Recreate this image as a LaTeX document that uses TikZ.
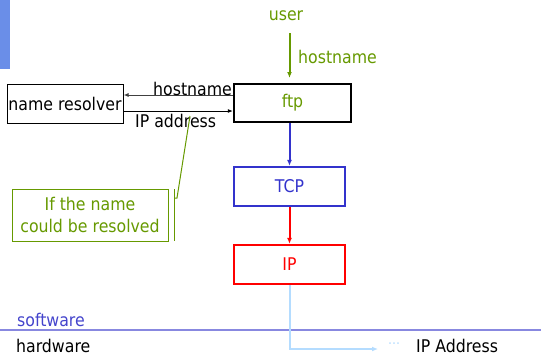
\documentclass[tikz,border=0pt]{standalone}
\usepackage{fontspec}
\setmainfont{DejaVu Sans Condensed}
\usetikzlibrary{arrows.meta}
\definecolor{leaf}{RGB}{102,153,0}
\definecolor{tcpblue}{RGB}{51,51,204}
\definecolor{ipred}{RGB}{255,0,0}
\definecolor{barblue}{RGB}{106,142,232}
\definecolor{layerline}{RGB}{136,136,224}
\definecolor{layertext}{RGB}{68,68,204}
\definecolor{wire}{RGB}{180,220,255}
\tikzset{
  box/.style={draw, inner sep=0pt, line width=#1},
  box/.default=1pt,
  tip/.style={-{Latex[length=6pt,width=5pt]}},
  smalltip/.style={-{Latex[length=5pt,width=4pt]}},
  lbl/.style={inner sep=0pt},
}
\begin{document}
\begin{tikzpicture}[x=1pt,y=-1pt,font=\fontsize{17.5}{20}\selectfont]
\useasboundingbox (0,0) rectangle (541,356);
% corner bar
\fill[barblue] (0,0) rectangle (10,69);

% boxes
\node[box, minimum width=116pt, minimum height=39pt] (res) at (65,103.5) {name resolver};
\node[box=2.2pt, minimum width=117pt, minimum height=38pt, text=leaf] (ftp) at (292.5,103) {ftp};
\node[box=2.2pt, draw=tcpblue, text=tcpblue, minimum width=111pt, minimum height=39pt] (tcp) at (289.5,186.5) {TCP};
\node[box=2.2pt, draw=ipred, text=ipred, minimum width=111pt, minimum height=39pt] (ip) at (289.5,264.5) {IP};
\node[box=1pt, draw=leaf, text=leaf, minimum width=156pt, minimum height=52pt, align=center,
      font=\fontsize{17.5}{22}\selectfont] (note) at (90,215) {If the name\\could be resolved};

% user input
\node[lbl, text=leaf] (user) at (286,16) {user};
\draw[tip, leaf, line width=2pt] (tcp.north |- 0,33) -- (tcp.north |- 0,78);
\node[lbl, text=leaf, anchor=west] (hn) at (298,57) {hostname};

% resolver exchange
\coordinate (hy) at (0,95);
\coordinate (ay) at (0,111);
\draw[smalltip, line width=1pt, black!75] (ftp.west |- hy) -- (res.east |- hy);
\draw[smalltip, line width=1pt] (res.east |- ay) -- (ftp.west |- ay);
\node[lbl, anchor=base west] (hname) at (153,95) {hostname};
\node[lbl, anchor=base west] (ipaddr) at (135,127) {IP address};

% protocol stack
\draw[tip, tcpblue, line width=2pt] (ftp.south -| tcp.north) -- (tcp.north);
\draw[tip, ipred, line width=2pt] (tcp.south) -- (ip.north);

% callout bracket
\coordinate (c1) at (174,189);
\coordinate (c2) at (174,241);
\coordinate (c3) at (174,198);
\coordinate (c4) at (177,198);
\coordinate (c5) at (190,116);
\draw[leaf, line width=1pt] (c1) -- (c2);
\draw[leaf, line width=1pt] (c3) -- (c4) -- (c5);

% software / hardware boundary
\coordinate (l0) at (0,330);
\coordinate (l1) at (541,330);
\draw[layerline, line width=2pt] (l0) -- (l1);
\node[lbl, text=layertext, anchor=west] (sw) at (17,320) {software};
\node[lbl, anchor=west] (hw) at (16,346) {hardware};

% output to the wire
\node[lbl, anchor=west] (addr) at (416,346) {IP Address};
\node[lbl, text=wire, anchor=west] (dots) at (388,346) {\fontsize{14}{16}\selectfont ···};
\coordinate (bend) at (289.5,349);
\draw[tip, wire, line width=2pt] (ip.south) -- (bend) -- (378,349);
\end{tikzpicture}
\end{document}
